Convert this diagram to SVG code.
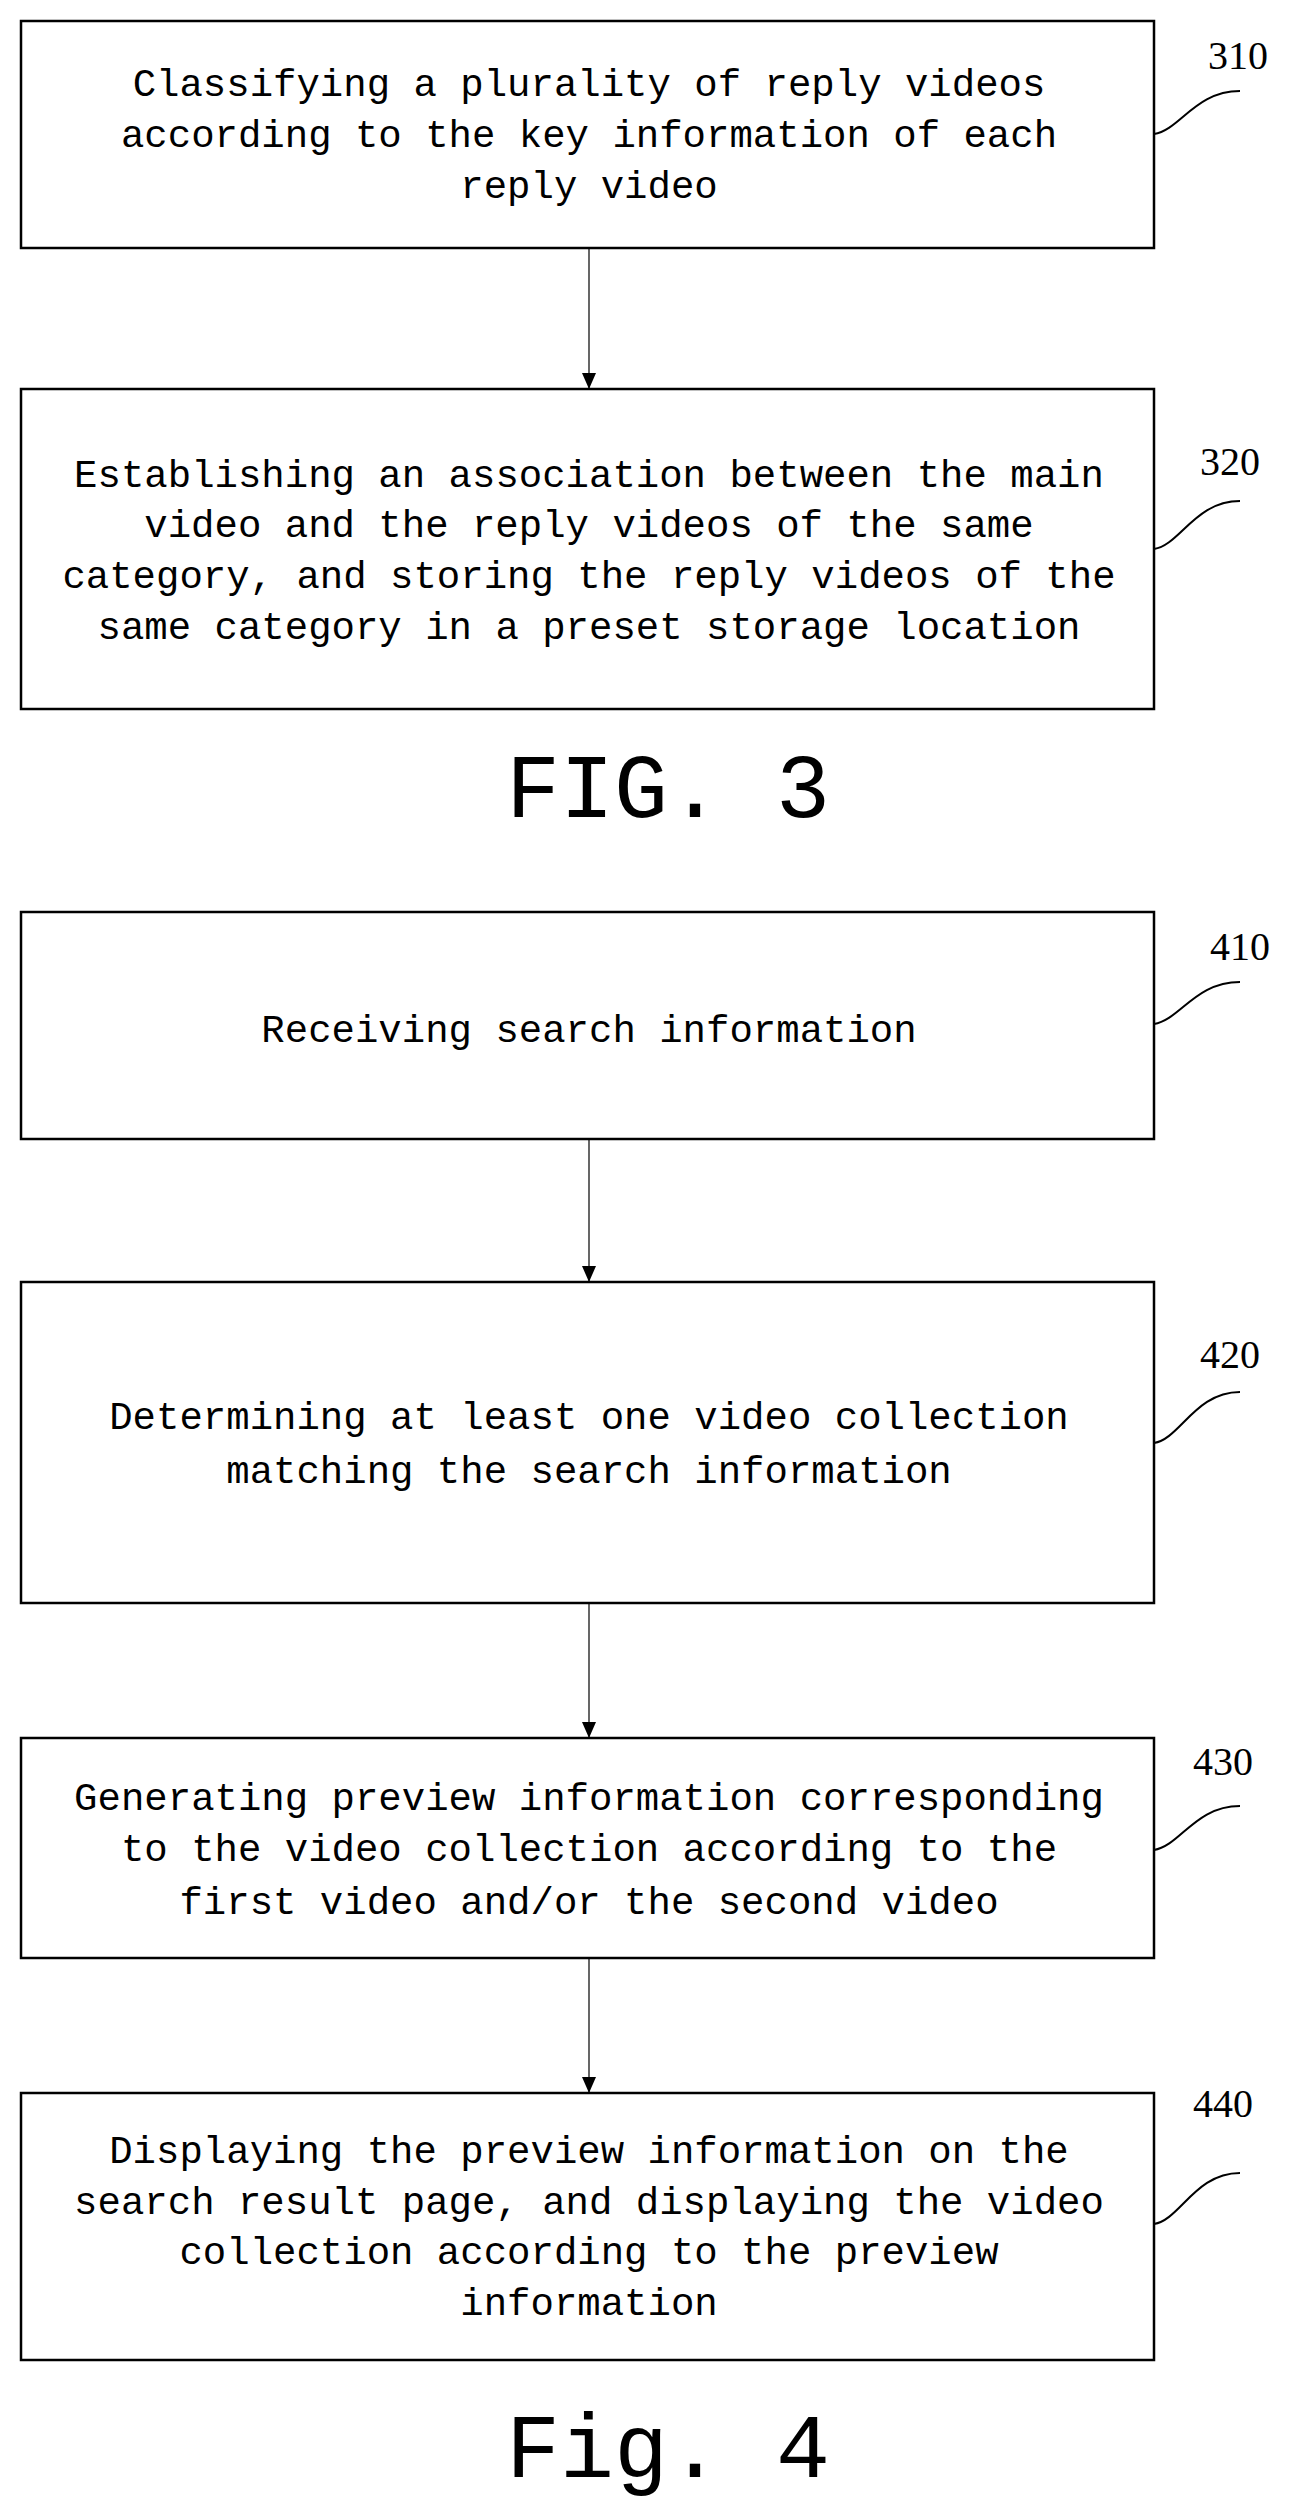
<svg xmlns="http://www.w3.org/2000/svg" width="1306" height="2511" viewBox="0 0 1306 2511">
<style>
.b{fill:#fff;stroke:#000;stroke-width:2.5}
.t{font-family:"Liberation Mono",monospace;font-size:39px;text-anchor:middle;fill:#000}
.n{font-family:"Liberation Serif",serif;font-size:40px;fill:#000}
.f{font-family:"Liberation Mono",monospace;font-size:90px;text-anchor:middle;fill:#000}
.s{fill:none;stroke:#000;stroke-width:2}
.c{stroke:#000;stroke-width:1.2;marker-end:url(#a)}
</style>
<defs><marker id="a" markerWidth="16" markerHeight="14" refX="16" refY="7" orient="auto" markerUnits="userSpaceOnUse" viewBox="0 0 16 14"><path d="M0,0 L16,7 L0,14 Z" fill="#000"/></marker></defs>
<rect width="1306" height="2511" fill="#fff"/>
<g id="n310"><rect class="b" x="21" y="21" width="1133" height="227"/>
<text class="t" x="589" y="96">Classifying a plurality of reply videos</text>
<text class="t" x="589" y="147">according to the key information of each</text>
<text class="t" x="589" y="198">reply video</text>
<text class="n" x="1208" y="69">310</text>
<path class="s" d="M1154,134 C1180,130 1195,91 1240,91"/></g>
<g id="n320"><rect class="b" x="21" y="389" width="1133" height="320"/>
<text class="t" x="589" y="487">Establishing an association between the main</text>
<text class="t" x="589" y="537">video and the reply videos of the same</text>
<text class="t" x="589" y="588">category, and storing the reply videos of the</text>
<text class="t" x="589" y="639">same category in a preset storage location</text>
<text class="n" x="1200" y="475">320</text>
<path class="s" d="M1154,549 C1180,545 1195,501 1240,501"/></g>
<text class="f" x="668" y="817">FIG. 3</text>
<g id="n410"><rect class="b" x="21" y="912" width="1133" height="227"/>
<text class="t" x="589" y="1042">Receiving search information</text>
<text class="n" x="1210" y="960">410</text>
<path class="s" d="M1154,1024 C1180,1020 1195,982 1240,982"/></g>
<g id="n420"><rect class="b" x="21" y="1282" width="1133" height="321"/>
<text class="t" x="589" y="1429">Determining at least one video collection</text>
<text class="t" x="589" y="1483">matching the search information</text>
<text class="n" x="1200" y="1368">420</text>
<path class="s" d="M1154,1443 C1180,1439 1195,1392 1240,1392"/></g>
<g id="n430"><rect class="b" x="21" y="1738" width="1133" height="220"/>
<text class="t" x="589" y="1810">Generating preview information corresponding</text>
<text class="t" x="589" y="1861">to the video collection according to the</text>
<text class="t" x="589" y="1914">first video and/or the second video</text>
<text class="n" x="1193" y="1775">430</text>
<path class="s" d="M1154,1850 C1180,1846 1195,1806 1240,1806"/></g>
<g id="n440"><rect class="b" x="21" y="2093" width="1133" height="267"/>
<text class="t" x="589" y="2163">Displaying the preview information on the</text>
<text class="t" x="589" y="2214">search result page, and displaying the video</text>
<text class="t" x="589" y="2264">collection according to the preview</text>
<text class="t" x="589" y="2315">information</text>
<text class="n" x="1193" y="2117">440</text>
<path class="s" d="M1154,2224 C1180,2220 1195,2173 1240,2173"/></g>
<text class="f" x="668" y="2477">Fig. 4</text>
<g id="connectors">
<line class="c" x1="589" y1="248" x2="589" y2="389"/>
<line class="c" x1="589" y1="1139" x2="589" y2="1282"/>
<line class="c" x1="589" y1="1603" x2="589" y2="1738"/>
<line class="c" x1="589" y1="1958" x2="589" y2="2093"/>
</g>
</svg>
